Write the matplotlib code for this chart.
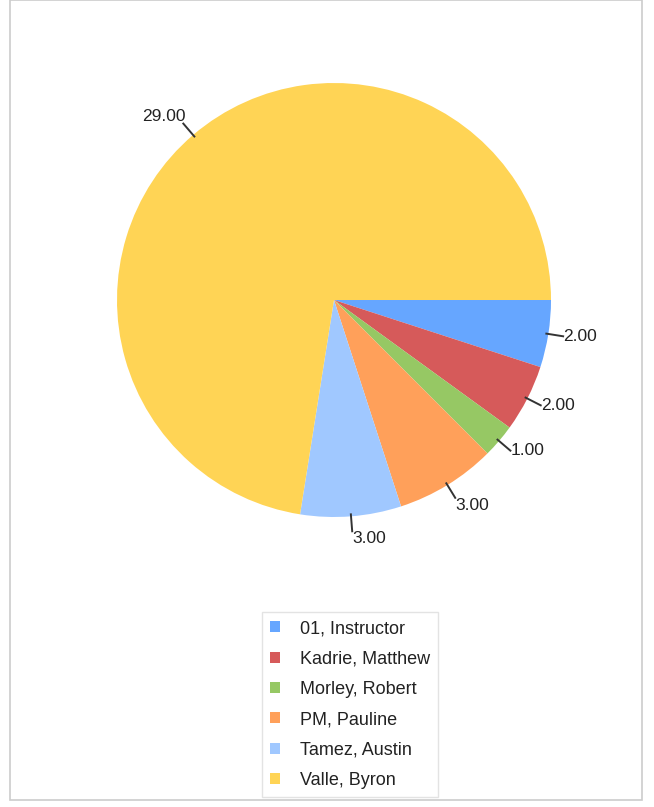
import numpy as np
import matplotlib
matplotlib.use("Agg")
import matplotlib.pyplot as plt
from matplotlib.patches import Rectangle

names = ["01, Instructor", "Kadrie, Matthew", "Morley, Robert",
         "PM, Pauline", "Tamez, Austin", "Valle, Byron"]
hours = [2, 2, 1, 3, 3, 29]
colors = ["#66a6ff", "#d65a5a", "#96c864", "#ffa05a", "#a0c8ff", "#ffd455"]

plt.rcParams['font.family'] = ['Liberation Sans', 'DejaVu Sans']

W, H = 654, 807
fig = plt.figure(figsize=(W / 100, H / 100), dpi=100)
ax = fig.add_axes([0, 0, 1, 1])

cx, cy, r = 334, H - 300, 217
wedges, _ = ax.pie(hours, colors=colors, startangle=0, counterclock=False,
                   center=(cx, cy), radius=r, frame=True,
                   wedgeprops=dict(linewidth=0))

# leader lines and value labels
for w, v in zip(wedges, hours):
    mid = np.deg2rad((w.theta1 + w.theta2) / 2)
    c, s = np.cos(mid), np.sin(mid)
    x0, y0 = cx + (r - 2) * c, cy + (r - 2) * s
    x1, y1 = cx + (r + 15) * c, cy + (r + 15) * s
    ax.plot([x0, x1], [y0, y1], color="#333333", lw=1.4)
    ha = "left" if c >= 0 else "right"
    if s < -0.7:
        va = "top"
    elif s > 0.7:
        va = "bottom"
    else:
        va = "center"
    ax.text(x1 + (0 if c >= 0 else 2), y1, f"{v:.2f}", ha=ha, va=va,
            fontsize=12.5, color="#222222")

# outer frame
ax.add_patch(Rectangle((10, H - 800), 632, 800, fill=False,
                       edgecolor="#cccccc", lw=1.2))

ax.set_xlim(0, W)
ax.set_ylim(0, H)
ax.set_aspect("equal")
ax.axis("off")

leg = fig.legend(wedges, names, loc="upper left",
                 bbox_to_anchor=(262 / W, 1 - 612 / H),
                 fontsize=13, frameon=True, fancybox=False,
                 handlelength=0.55, handleheight=0.55, handletextpad=1.1,
                 labelspacing=0.74, borderpad=0.45, borderaxespad=0)
leg.get_frame().set_edgecolor("#dddddd")
leg.get_frame().set_linewidth(1)
for t in leg.get_texts():
    t.set_color("#222222")

fig.savefig("out.png", dpi=100)
